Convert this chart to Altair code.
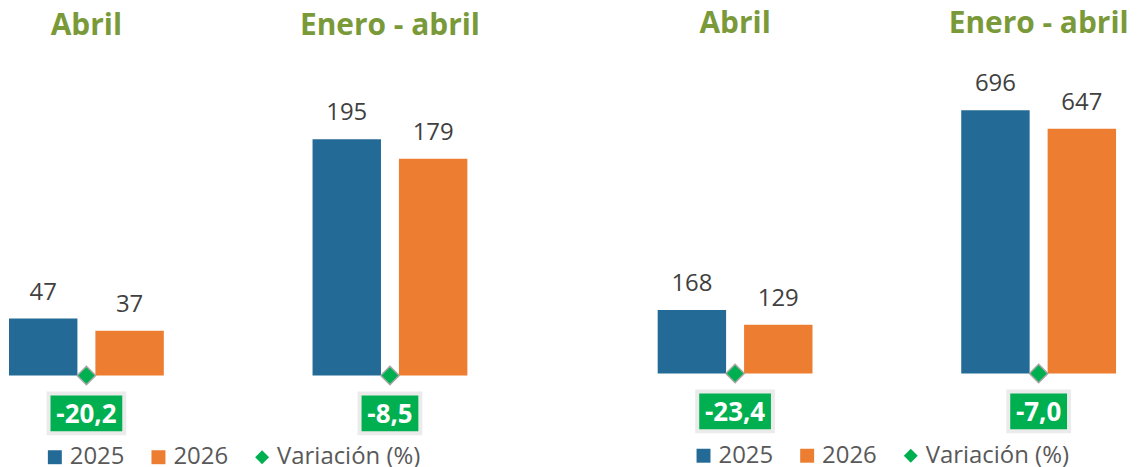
import altair as alt
import pandas as pd

grupos = ["Abril", "Enero - abril"]
anios = ["2025", "2026"]
series = ["2025", "2026", "Variación (%)"]

izq_2025 = [47, 195]
izq_2026 = [37, 179]
izq_var = [-20.2, -8.5]

der_2025 = [168, 696]
der_2026 = [129, 647]
der_var = [-23.4, -7.0]

AZUL = "#236A96"
NARANJA = "#ED7D31"
VERDE = "#00B050"
TITULO = "#7A9A3A"
FONT = "Open Sans"


def panel(v25, v26, var, height, ymax, sh, leg_y):
    bars = pd.DataFrame({
        "grupo": grupos * 2,
        "serie": ["2025"] * len(grupos) + ["2026"] * len(grupos),
        "valor": v25 + v26,
    })
    vdf = pd.DataFrame({
        "grupo": grupos,
        "serie": ["Variación (%)"] * len(grupos),
        "var": var,
        "lab": [f"{v:.1f}".replace(".", ",") for v in var],
    })

    xenc = alt.X("grupo:N", sort=grupos, axis=None,
                 scale=alt.Scale(paddingInner=0.49, paddingOuter=0))
    xoff = alt.XOffset("serie:N", sort=anios,
                       scale=alt.Scale(paddingInner=0.208, paddingOuter=0))
    yscale = alt.Scale(domain=[0, ymax], nice=False, zero=True)
    leg = alt.Legend(orient="none", legendX=34, legendY=leg_y, direction="horizontal",
                     title=None, labelFont=FONT, labelFontSize=24, labelColor="#595959",
                     symbolSize=196, labelOffset=3, columnPadding=22, padding=0,
                     symbolStrokeWidth=0, labelLimit=300)
    color = alt.Color("serie:N", scale=alt.Scale(domain=series, range=[AZUL, NARANJA, VERDE]),
                      legend=leg)
    shape = alt.Shape("serie:N", scale=alt.Scale(domain=series,
                                                 range=["square", "square", "diamond"]),
                      legend=leg)

    b = alt.Chart(bars).mark_bar().encode(
        x=xenc, xOffset=xoff,
        y=alt.Y("valor:Q", scale=yscale, axis=None),
        color=color,
    )
    vals = alt.Chart(bars).mark_text(font=FONT, fontSize=24, color="#404040",
                                     dy=-19, baseline="alphabetic").encode(
        x=xenc, xOffset=xoff,
        y=alt.Y("valor:Q", scale=yscale, axis=None),
        text=alt.Text("valor:Q"),
    )
    dia = alt.Chart(vdf).mark_point(filled=True, size=340, stroke="#A6A6A6",
                                    strokeWidth=1.5, opacity=1).encode(
        x=xenc, y=alt.datum(0, scale=yscale),
        color=color, shape=shape,
    )
    gris = alt.Chart(vdf).mark_rect(color="#EBEBEB",
                                    width=alt.ExprRef("length(datum.lab)*15 + 5")).encode(
        x=xenc, y=alt.value(382 + sh), y2=alt.value(426 + sh),
    )
    caja = alt.Chart(vdf).mark_rect(color=VERDE,
                                    width=alt.ExprRef("length(datum.lab)*15 - 3")).encode(
        x=xenc, y=alt.value(386 + sh), y2=alt.value(422 + sh),
    )
    txt = alt.Chart(vdf).mark_text(font=FONT, fontSize=26, fontWeight="bold", color="white",
                                   baseline="alphabetic").encode(
        x=xenc, y=alt.value(413.5 + sh), text="lab:N",
    )
    tit = alt.Chart(vdf).mark_text(font=FONT, fontSize=30, fontWeight="bold", color=TITULO,
                                   baseline="alphabetic").encode(
        x=xenc, y=alt.value(24.3 + sh * 0.8), text="grupo:N",
    )
    return alt.layer(b, vals, dia, gris, caja, txt, tit).properties(width=460, height=height)


izq = panel(izq_2025, izq_2026, izq_var, 366, 301, 0, 436)
der = panel(der_2025, der_2026, der_var, 364, 958.6, -2, 434.5)

chart = alt.hconcat(izq, der, spacing=191, bounds="flush").resolve_scale(
    x="independent", y="independent", color="independent", shape="independent",
    xOffset="independent",
).resolve_legend(color="independent", shape="independent").properties(
    padding={"left": 1, "top": 0, "right": 0, "bottom": 0}
).configure_view(stroke=None)

chart.save("out.html", embed_options={"renderer": "svg", "actions": False})
